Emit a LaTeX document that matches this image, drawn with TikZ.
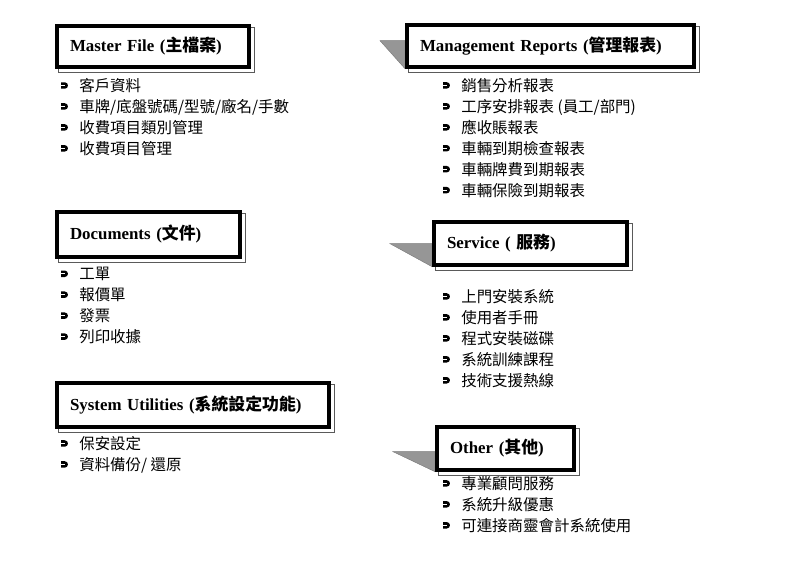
\documentclass[tikz,border=0pt]{standalone}
\usepackage{fontspec}
\setmainfont{Liberation Serif}
\newfontfamily\cjk{Noto Sans CJK TC}
\usetikzlibrary{backgrounds}
\definecolor{tabg} {RGB}{150,150,150}
\definecolor{shdg} {RGB}{ 90, 90, 90}
\tikzset{
  % Heading box, thick black frame
  HB/.style={rectangle,draw=black,fill=white,line width=2.6pt,
             text width=#1,align=left,inner xsep=0.33cm,inner ysep=0pt,
             font=\fontsize{12}{14}\selectfont\bfseries,anchor=north west},
  HB/.default=4cm,
  % Bullet list
  LB/.style={align=left,inner sep=0pt,anchor=north west,
             font=\cjk\fontsize{11}{14.9}\selectfont},
  % Grey tab left of a box
  Tab/.style={fill=tabg,draw=tabg!80!black,line width=0.3pt},
  % Outline shadow
  Shd/.style={draw=shdg,line width=0.7pt},
}
% list bullet
\newcommand\itm{\makebox[0.475cm][l]{\tikz[x=1pt,y=1pt,baseline=0pt]{
  \fill (0,1.9) -- (2.6,1.9) arc[start angle=-90,end angle=90,radius=2.3]
        -- (0,6.5) -- cycle;
  \draw[white,line width=0.75pt] (-0.2,4.2) -- (2.9,4.2);}}}
\newcommand\zh[1]{{\cjk\bfseries #1}}

\begin{document}
\begin{tikzpicture}[x=0.025cm,y=-0.025cm]
      \useasboundingbox (0,0) rectangle (791,567);
      % headings
      \node[HB=4.15cm,minimum height=1.025cm] (mf) at (55,24)
            {Master File (\zh{主檔案})};
      \node[HB=6.525cm,minimum height=1.05cm] (mr) at (405,23)
            {Management Reports (\zh{管理報表})};
      \node[HB=3.925cm,minimum height=1.125cm] (doc) at (55,210)
            {Documents (\zh{文件})};
      \node[HB=4.175cm,minimum height=1.075cm] (srv) at (432,220)
            {Service ( \zh{服務})};
      \node[HB=6.15cm,minimum height=1.1cm] (sys) at (55,381)
            {System Utilities (\zh{系統設定功能})};
      \node[HB=2.775cm,minimum height=1.075cm] (oth) at (435,425)
            {Other (\zh{其他})};
      \begin{scope}[on background layer]
        \foreach \n in {mf,mr,doc,srv,sys,oth}
          \draw[Shd] ([shift={(3.5,3.5)}]\n.south west)
                     rectangle ([shift={(3.5,3.5)}]\n.north east);
        \fill[Tab] (mr.south west) -- ++(0,-28) -- ++(-25,0) -- cycle;
        \fill[Tab] (srv.south west) -- ++(0,-23) -- ++(-42,0) -- cycle;
        \fill[Tab] (oth.south west) -- ++(0,-20) -- ++(-42,0) -- cycle;
      \end{scope}
      % lists
      \node[LB] (mfl) at (60,78)
            {\itm 客戶資料\\ \itm 車牌/底盤號碼/型號/廠名/手數\\
             \itm 收費項目類別管理\\ \itm 收費項目管理};
      \node[LB] (docl) at (60,267)
            {\itm 工單\\ \itm 報價單\\ \itm 發票\\ \itm 列印收據};
      \node[LB] (sysl) at (60,436)
            {\itm 保安設定\\ \itm 資料備份/ 還原};
      \node[LB] (mrl) at (442,78)
            {\itm 銷售分析報表\\ \itm 工序安排報表 (員工/部門)\\
             \itm 應收賬報表\\ \itm 車輛到期檢查報表\\
             \itm 車輛牌費到期報表\\ \itm 車輛保險到期報表};
      \node[LB] (srvl) at (442,289)
            {\itm 上門安裝系統\\ \itm 使用者手冊\\ \itm 程式安裝磁碟\\
             \itm 系統訓練課程\\ \itm 技術支援熱線};
      \node[LB] (othl) at (442,476)
            {\itm 專業顧問服務\\ \itm 系統升級優惠\\
             \itm 可連接商靈會計系統使用};
    \end{tikzpicture}
\end{document}
